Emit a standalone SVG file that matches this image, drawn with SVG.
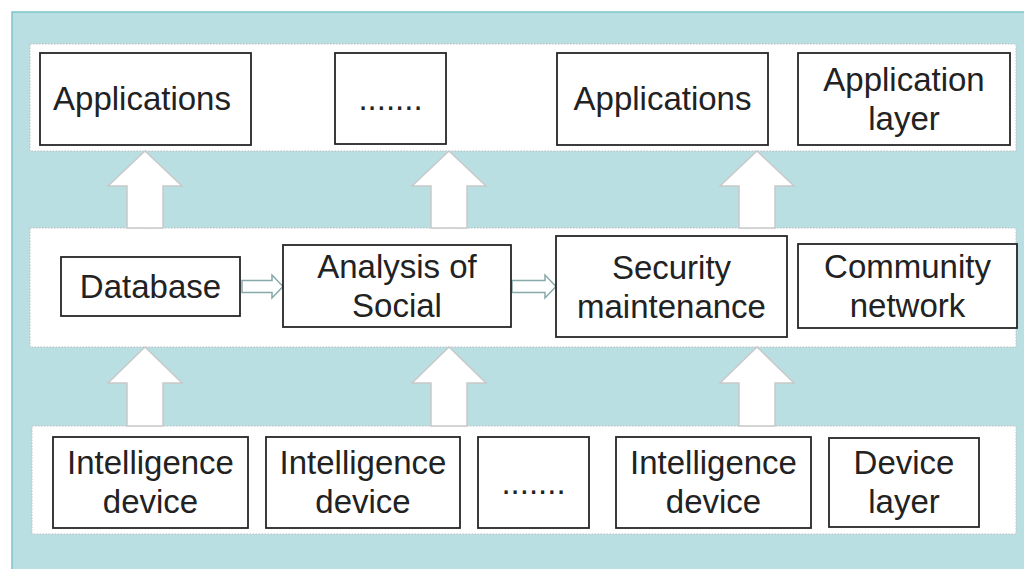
<svg xmlns="http://www.w3.org/2000/svg" width="1024" height="569" viewBox="0 0 1024 569">
<defs>
<style>
.band{fill:#ffffff;stroke:#bdbdbd;stroke-width:1;stroke-dasharray:1.5 1.5}
.box{fill:#ffffff;stroke:#262626;stroke-width:1.8}
.t{font-family:"Liberation Sans",Arial,sans-serif;font-size:33px;fill:#222222;text-anchor:middle}
.big{fill:#ffffff;stroke:#c9c9c9;stroke-width:1.5}
.small{fill:#ffffff;stroke:#86a9aa;stroke-width:1.5}
</style>
</defs>
<rect x="0" y="0" width="1024" height="569" fill="#ffffff"/>
<rect x="12" y="12" width="1020" height="565" fill="#badfe2" stroke="#7cc5cc" stroke-width="1.5"/>
<g id="bands">
<rect class="band" x="30" y="44" width="986" height="107"/>
<rect class="band" x="30" y="228" width="986" height="119"/>
<rect class="band" x="32" y="426" width="984" height="108"/>
</g>
<g id="connectors">
<polygon class="big" points="145,151 182,186 163,186 163,228 127,228 127,186 108,186"/>
<polygon class="big" points="449,151 486,186 467,186 467,228 431,228 431,186 412,186"/>
<polygon class="big" points="757,151 794,186 775,186 775,228 739,228 739,186 720,186"/>
<polygon class="big" points="145,347 182,383 163,383 163,426 127,426 127,383 108,383"/>
<polygon class="big" points="449,347 486,383 467,383 467,426 431,426 431,383 412,383"/>
<polygon class="big" points="757,347 794,383 775,383 775,426 739,426 739,383 720,383"/>
<polygon class="small" points="242,280.5 272,280.5 272,275 283,286.5 272,298 272,292.5 242,292.5"/>
<polygon class="small" points="512,280.5 545,280.5 545,275 556,286.5 545,298 545,292.5 512,292.5"/>
</g>
<g id="app1"><rect class="box" x="40" y="53" width="211" height="92"/><text class="t" x="142" y="110">Applications</text></g>
<g id="appdots"><rect class="box" x="335" y="53" width="111" height="91"/><text class="t" x="390.5" y="110">.......</text></g>
<g id="app2"><rect class="box" x="557" y="53" width="211" height="92"/><text class="t" x="662.5" y="110">Applications</text></g>
<g id="applayer"><rect class="box" x="798" y="53" width="212" height="92"/><text class="t" x="904" y="91">Application</text><text class="t" x="904" y="130">layer</text></g>
<g id="database"><rect class="box" x="61" y="257" width="179" height="59"/><text class="t" x="150.5" y="298">Database</text></g>
<g id="analysis"><rect class="box" x="283" y="245" width="228" height="82"/><text class="t" x="397" y="278">Analysis of</text><text class="t" x="397" y="317">Social</text></g>
<g id="security"><rect class="box" x="556" y="236" width="231" height="101"/><text class="t" x="671.5" y="279">Security</text><text class="t" x="671.5" y="318">maintenance</text></g>
<g id="community"><rect class="box" x="798" y="244" width="219" height="84"/><text class="t" x="907.5" y="278">Community</text><text class="t" x="907.5" y="317">network</text></g>
<g id="dev1"><rect class="box" x="53" y="437" width="195" height="91"/><text class="t" x="150.5" y="474">Intelligence</text><text class="t" x="150.5" y="513">device</text></g>
<g id="dev2"><rect class="box" x="266" y="437" width="194" height="91"/><text class="t" x="363" y="474">Intelligence</text><text class="t" x="363" y="513">device</text></g>
<g id="devdots"><rect class="box" x="478" y="437" width="111" height="91"/><text class="t" x="533.5" y="494">.......</text></g>
<g id="dev3"><rect class="box" x="616" y="437" width="195" height="91"/><text class="t" x="713.5" y="474">Intelligence</text><text class="t" x="713.5" y="513">device</text></g>
<g id="devlayer"><rect class="box" x="829" y="438" width="150" height="89"/><text class="t" x="904" y="474">Device</text><text class="t" x="904" y="513">layer</text></g>
</svg>
